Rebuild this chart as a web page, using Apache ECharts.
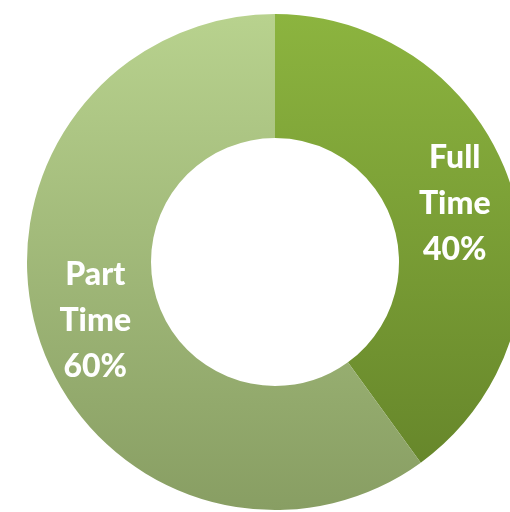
<!DOCTYPE html>
<html>
<head>
<meta charset="utf-8">
<script src="https://cdn.jsdelivr.net/npm/echarts@6/dist/echarts.min.js"></script>
<style>html,body{margin:0;padding:0;background:#fff;}#c{width:510px;height:512px;}</style>
</head>
<body>
<div id="c"></div>
<script>
const categories = ['Full\nTime', 'Part\nTime'];
const values = [40, 60];
const topColors = ['#8cb43f', '#b8d28e'];
const bottomColors = ['#67872b', '#889e63'];

const chart = echarts.init(document.getElementById('c'));
chart.setOption({
  animation: false,
  series: [{
    type: 'pie',
    center: [275, 262],
    radius: [124, 248],
    startAngle: 90,
    clockwise: true,
    avoidLabelOverlap: false,
    label: {
      show: true,
      position: 'inside',
      formatter: p => p.name + '\n' + p.percent + '%',
      color: '#fff',
      fontFamily: 'Lato',
      fontWeight: 900,
      fontSize: 32,
      lineHeight: 46,
      padding: [8, 0, 0, 0]
    },
    labelLine: { show: false },
    emphasis: { disabled: true },
    data: categories.map((c, i) => ({
      name: c,
      value: values[i],
      itemStyle: {
        color: new echarts.graphic.LinearGradient(0, 0, 0, 1, [
          { offset: 0, color: topColors[i] },
          { offset: 1, color: bottomColors[i] }
        ])
      }
    }))
  }]
});
</script>
</body>
</html>
